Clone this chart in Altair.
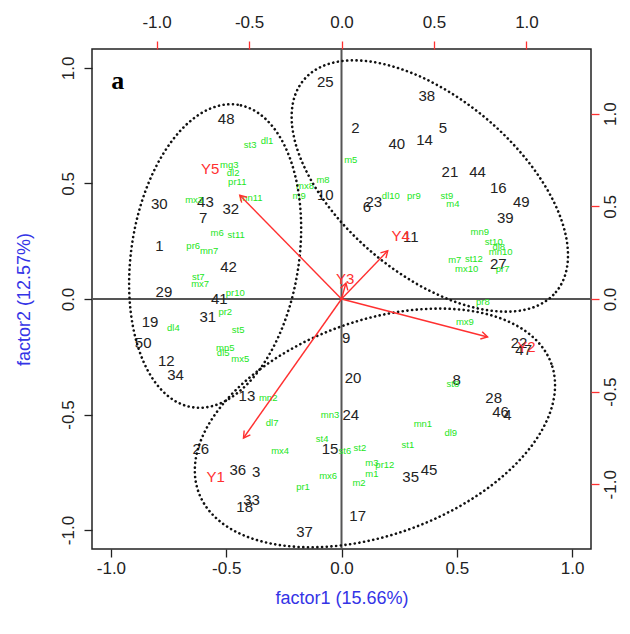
import altair as alt
import pandas as pd
import numpy as np

# ---------------- data ----------------
# observation scores (primary axes: factor1, factor2)
obs_labels = ["48", "25", "38", "2", "40", "14", "5", "21", "44", "16", "49", "39", "27",
              "10", "23", "6", "11", "30", "43", "7", "32", "1", "42", "29", "41", "31",
              "19", "50", "12", "34", "13", "26", "36", "3", "33", "18", "37", "9", "20",
              "24", "15", "17", "35", "45", "8", "28", "46", "4", "22", "47"]
obs_x = [-0.50, -0.07, 0.37, 0.06, 0.24, 0.36, 0.44, 0.47, 0.59, 0.68, 0.78, 0.71, 0.68,
         -0.07, 0.14, 0.11, 0.30, -0.79, -0.59, -0.60, -0.48, -0.79, -0.49, -0.77, -0.53, -0.58,
         -0.83, -0.86, -0.76, -0.72, -0.41, -0.61, -0.45, -0.37, -0.39, -0.42, -0.16, 0.02, 0.05,
         0.04, -0.05, 0.07, 0.30, 0.38, 0.50, 0.66, 0.69, 0.72, 0.77, 0.79]
obs_y = [0.78, 0.94, 0.88, 0.74, 0.67, 0.69, 0.74, 0.55, 0.55, 0.48, 0.42, 0.35, 0.15,
         0.45, 0.42, 0.40, 0.27, 0.41, 0.42, 0.35, 0.39, 0.23, 0.14, 0.03, 0.00, -0.08,
         -0.10, -0.19, -0.27, -0.33, -0.42, -0.65, -0.74, -0.75, -0.87, -0.90, -1.01, -0.17, -0.34,
         -0.50, -0.65, -0.94, -0.77, -0.74, -0.35, -0.43, -0.49, -0.50, -0.19, -0.22]

# green variable labels
var_labels = ["st3", "dl1", "mg3", "dl2", "pr11", "mn11", "mx3", "m6", "st11", "pr6", "mn7",
              "st7", "mx7", "pr10", "pr2", "dl4", "st5", "mn5", "dl5", "mx5",
              "m5", "mx8", "m8", "m9", "dl10", "pr9", "st9", "m4", "mn9", "st10", "dl8", "mn10",
              "m7", "st12", "mx10", "pr7", "pr8", "mx9",
              "mn2", "dl7", "mx4", "mn3", "st4", "st6", "st2", "mx6", "pr1", "m3", "pr12", "m1",
              "m2", "st1", "mn1", "dl9", "st8"]
var_x = [-0.396, -0.323, -0.487, -0.470, -0.452, -0.392, -0.639, -0.539, -0.457, -0.643, -0.574,
         -0.621, -0.613, -0.461, -0.504, -0.729, -0.448, -0.504, -0.513, -0.439,
         0.040, -0.158, -0.080, -0.184, 0.214, 0.314, 0.457, 0.483, 0.600, 0.660, 0.682, 0.690,
         0.491, 0.574, 0.543, 0.699, 0.613, 0.535,
         -0.318, -0.301, -0.266, -0.050, -0.084, 0.015, 0.080, -0.058, -0.167, 0.132, 0.188, 0.132,
         0.076, 0.288, 0.353, 0.474, 0.483]
var_y = [0.667, 0.684, 0.580, 0.545, 0.506, 0.437, 0.429, 0.286, 0.277, 0.229, 0.208,
         0.095, 0.065, 0.026, -0.056, -0.126, -0.134, -0.212, -0.234, -0.260,
         0.602, 0.489, 0.515, 0.446, 0.446, 0.446, 0.446, 0.411, 0.290, 0.247, 0.225, 0.203,
         0.169, 0.173, 0.130, 0.130, -0.013, -0.100,
         -0.429, -0.537, -0.658, -0.502, -0.606, -0.658, -0.645, -0.766, -0.814, -0.710, -0.719, -0.758,
         -0.797, -0.632, -0.541, -0.580, -0.368]

# response variables (secondary axes: top / right)
resp_labels = ["Y1", "Y2", "Y3", "Y4", "Y5"]
resp_x = [-0.68, 1.00, 0.02, 0.32, -0.71]
resp_y = [-0.96, -0.26, 0.11, 0.34, 0.70]
arrow_x = [-0.53, 0.79, 0.024, 0.25, -0.55]
arrow_y = [-0.75, -0.205, 0.086, 0.26, 0.56]

# group ellipses (centre, semi-axes, rotation in degrees)
ell_cx = [-0.548, 0.383, 0.145]
ell_cy = [0.186, 0.489, -0.558]
ell_a = [0.662, 0.714, 0.814]
ell_b = [0.364, 0.381, 0.463]
ell_angle = [81.5, -40.0, 20.0]

panel_label = "a"

# ---------------- tables ----------------
obs_df = pd.DataFrame({"x": obs_x, "y": obs_y, "lab": obs_labels})
var_df = pd.DataFrame({"x": var_x, "y": var_y, "lab": var_labels})
resp_df = pd.DataFrame({"x": resp_x, "y": resp_y, "lab": resp_labels})
ang = (np.degrees(np.arctan2(np.array(arrow_x), np.array(arrow_y))) + 360.0) % 360.0
arrow_df = pd.DataFrame({"x0": 0.0, "y0": 0.0, "x": arrow_x, "y": arrow_y, "ang": ang})

rows = []
t = np.linspace(0, 2 * np.pi, 241)
for k in range(len(ell_cx)):
    th = np.radians(ell_angle[k])
    ex = ell_a[k] * np.cos(t)
    ey = ell_b[k] * np.sin(t)
    xx = ell_cx[k] + ex * np.cos(th) - ey * np.sin(th)
    yy = ell_cy[k] + ex * np.sin(th) + ey * np.cos(th)
    for i in range(len(t)):
        rows.append({"x": xx[i], "y": yy[i], "id": k, "i": i})
ell_df = pd.DataFrame(rows)

# ---------------- scales & axes ----------------
FONT = "Liberation Sans"
TXT = "#222222"
RED = "#ff3030"
BLUE = "#3434e6"
GREEN = "#22e622"
ticks = [-1.0, -0.5, 0.0, 0.5, 1.0]
lexpr = "(datum.value < 0 ? '-' : '') + format(abs(datum.value), '.1f')"

xs = alt.Scale(domain=[-1.082, 1.082], nice=False, zero=False)
ys = alt.Scale(domain=[-1.082, 1.082], nice=False, zero=False)
xs2 = alt.Scale(domain=[-1.349, 1.349], nice=False, zero=False)
ys2 = alt.Scale(domain=[-1.349, 1.349], nice=False, zero=False)

common = dict(values=ticks, labelExpr=lexpr, domain=False, grid=False, tickSize=8,
              tickWidth=1.3, labelFont=FONT, labelFontSize=17, labelColor=TXT,
              titleFont=FONT, titleFontSize=18, titleColor=BLUE, titleFontWeight="normal")
ax_b = alt.Axis(orient="bottom", tickColor=TXT, labelPadding=3, title="factor1 (15.66%)",
                titlePadding=13, **common)
ax_l = alt.Axis(orient="left", tickColor=TXT, labelAngle=270, labelAlign="center",
                labelBaseline="bottom", labelPadding=7, title="factor2 (12.57%)",
                titlePadding=26, **common)
ax_t = alt.Axis(orient="top", tickColor=RED, labelPadding=10, title="", **common)
ax_r = alt.Axis(orient="right", tickColor=RED, labelAngle=270, labelAlign="center",
                labelBaseline="top", labelPadding=3, title="", **common)

X = alt.X("x:Q", scale=xs, axis=ax_b)
Y = alt.Y("y:Q", scale=ys, axis=ax_l)
X2 = alt.X("x:Q", scale=xs2, axis=ax_t)
Y2 = alt.Y("y:Q", scale=ys2, axis=ax_r)

# ---------------- primary layer ----------------
zero_v = alt.Chart(pd.DataFrame({"x": [0.0]})).mark_rule(color="#555555", strokeWidth=2).encode(x=X)
zero_h = alt.Chart(pd.DataFrame({"y": [0.0]})).mark_rule(color="#555555", strokeWidth=2).encode(y=Y)

ellipses = alt.Chart(ell_df).mark_line(
    color="#111111", strokeWidth=2.6, strokeDash=[0.1, 4.6], strokeCap="round"
).encode(x=X, y=Y, detail="id:N", order="i:Q")

obs_text = alt.Chart(obs_df).mark_text(
    font=FONT, fontSize=15, color=TXT, align="center", baseline="middle"
).encode(x=X, y=Y, text="lab:N")

var_text = alt.Chart(var_df).mark_text(
    font=FONT, fontSize=9.5, color=GREEN, align="center", baseline="middle"
).encode(x=X, y=Y, text="lab:N")

a_text = alt.Chart(pd.DataFrame({"x": [-0.97], "y": [0.944], "lab": [panel_label]})).mark_text(
    font="Liberation Serif", fontSize=26, fontWeight="bold", color="#000000",
    align="center", baseline="middle"
).encode(x=X, y=Y, text="lab:N")

primary = alt.layer(zero_v, zero_h, obs_text, var_text, a_text, ellipses)

# ---------------- secondary layer ----------------
arrows = alt.Chart(arrow_df).mark_rule(color=RED, strokeWidth=1.4).encode(
    x=alt.X("x0:Q", scale=xs2, axis=ax_t), y=alt.Y("y0:Q", scale=ys2, axis=ax_r),
    x2="x:Q", y2="y:Q")

heads = alt.Chart(arrow_df).mark_point(
    shape="M -0.5 0.866 L 0 0 L 0.5 0.866", size=230, filled=False,
    stroke=RED, strokeWidth=1.4, opacity=1
).encode(x=alt.X("x:Q", scale=xs2, axis=ax_t), y=alt.Y("y:Q", scale=ys2, axis=ax_r),
         angle=alt.Angle("ang:Q", scale=None))

resp_text = alt.Chart(resp_df).mark_text(
    font=FONT, fontSize=15, color=RED, align="center", baseline="middle"
).encode(x=X2, y=Y2, text="lab:N")

secondary = alt.layer(arrows, heads, resp_text)

chart = alt.layer(primary, secondary).resolve_scale(
    x="independent", y="independent"
).properties(
    width=499, height=500,
    autosize=alt.AutoSizeParams(type="none"),
    padding={"left": 84, "top": 41, "right": 30, "bottom": 73},
).configure_view(stroke="#222222", strokeWidth=1.5)

chart.save("out.html", embed_options={"renderer": "svg", "actions": False})
